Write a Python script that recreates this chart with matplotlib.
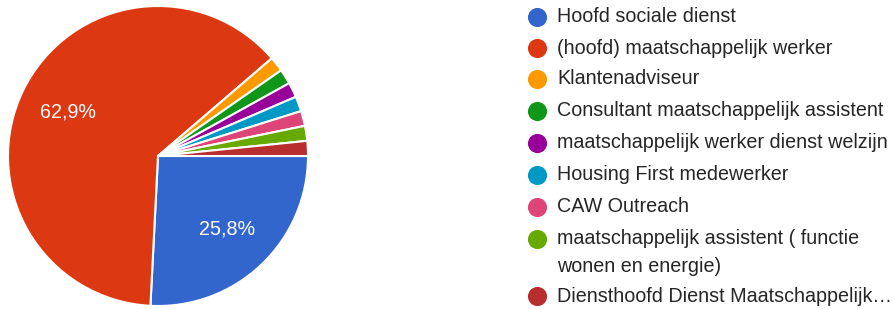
import matplotlib
matplotlib.use("Agg")
import matplotlib.pyplot as plt

labels = [
    "Hoofd sociale dienst",
    "(hoofd) maatschappelijk werker",
    "Klantenadviseur",
    "Consultant maatschappelijk assistent",
    "maatschappelijk werker dienst welzijn",
    "Housing First medewerker",
    "CAW Outreach",
    "maatschappelijk assistent ( functie\nwonen en energie)",
    "Diensthoofd Dienst Maatschappelijk…",
]
counts = [16, 39, 1, 1, 1, 1, 1, 1, 1]
colors = ["#3366cc", "#dc3912", "#ff9900", "#109618", "#990099",
          "#0099c6", "#dd4477", "#66aa00", "#b82e2e"]

plt.rcParams['font.family'] = ['Liberation Sans', 'DejaVu Sans']

W, H = 895, 309
fig = plt.figure(figsize=(W / 100, H / 100), dpi=100)

cx, cy, r = 158, 156, 150
ax = fig.add_axes([(cx - r) / W, (H - cy - r) / H, 2 * r / W, 2 * r / H])

def fmt(p):
    return (f"{p:.1f}%".replace(".", ",")) if p > 5 else ""

wedges, texts, autotexts = ax.pie(
    counts, colors=colors, startangle=0, counterclock=False,
    autopct=fmt, pctdistance=0.67,
    wedgeprops=dict(edgecolor="white", linewidth=1.5),
    textprops=dict(color="white", fontsize=14.2),
)
ax.set_xlim(-1, 1)
ax.set_ylim(-1, 1)
ax.set_aspect("equal")
ax.axis("off")

# legend
lax = fig.add_axes([0, 0, 1, 1])
lax.set_xlim(0, W)
lax.set_ylim(H, 0)
lax.axis("off")
row_y = [17, 48, 79, 111, 143, 175, 207, 239, 296]
fs = 14.2
for lab, col, y in zip(labels, colors, row_y):
    lax.scatter([537], [y], s=190, color=col, zorder=3, linewidths=0)
    lines = lab.split("\n")
    for i, ln in enumerate(lines):
        lax.text(557, y + 27 * i, ln, fontsize=fs, color="#262626", va="center")

fig.savefig("out.png", dpi=100)
